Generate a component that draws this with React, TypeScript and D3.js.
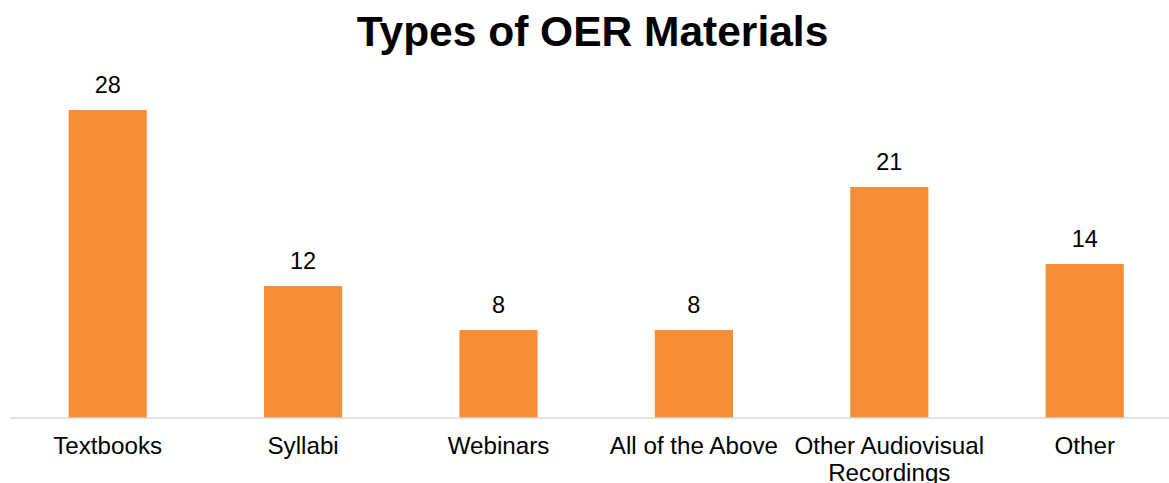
import React from "react";
import * as d3 from "d3";

const categories: string[] = ["Textbooks", "Syllabi", "Webinars", "All of the Above", "Other Audiovisual Recordings", "Other"];
const categoryLines: string[][] = [["Textbooks"], ["Syllabi"], ["Webinars"], ["All of the Above"], ["Other Audiovisual", "Recordings"], ["Other"]];
const values: number[] = [28, 12, 8, 8, 21, 14];
const title = "Types of OER Materials";

const W = 1169;
const H = 483;
const FONT = "'Liberation Sans', Arial, Helvetica, sans-serif";

export default function App() {
  const x = d3.scaleBand<string>().domain(categories).range([10, 10 + 6 * 195.4]).paddingInner(0.6).paddingOuter(0.3);
  const y = d3.scaleLinear().domain([0, 38]).range([418, 0]);
  return (
    <svg width={W} height={H} style={{ position: "absolute", left: 0, top: 0, background: "#fff" }}>
      <text x={592.5} y={46} textAnchor="middle" fontFamily={FONT} fontWeight="bold" fontSize={42.5} fill="#000">
        {title}
      </text>
      {categories.map((c, i) => (
        <g key={c}>
          <rect x={x(c)} y={y(values[i])} width={x.bandwidth()} height={y(0) - y(values[i])} fill="#F68E38" />
          <text x={(x(c) as number) + x.bandwidth() / 2} y={y(values[i]) - 17} textAnchor="middle" fontFamily={FONT} fontSize={23.5} fill="#000">
            {values[i]}
          </text>
          {categoryLines[i].map((ln, j) => (
            <text key={j} x={(x(c) as number) + x.bandwidth() / 2} y={y(0) + 35.5 + j * 27} textAnchor="middle" fontFamily={FONT} fontSize={24.2} fill="#000">
              {ln}
            </text>
          ))}
        </g>
      ))}
      <line x1={10} x2={W} y1={y(0)} y2={y(0)} stroke="#d9d9d9" strokeWidth={1.5} />
    </svg>
  );
}
